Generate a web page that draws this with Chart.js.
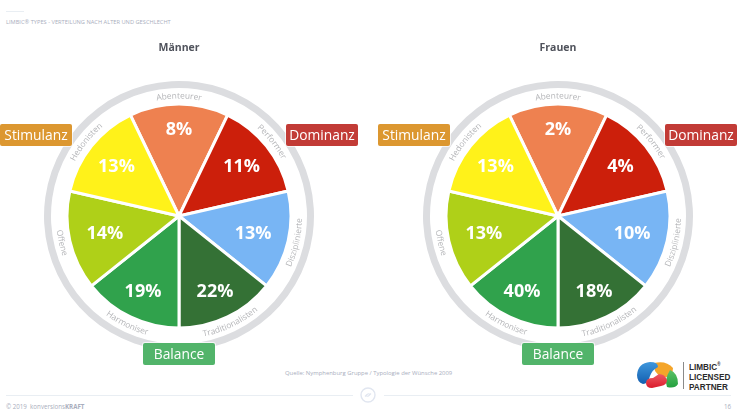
<!DOCTYPE html>
<html lang="de">
<head>
<meta charset="utf-8">
<title>LIMBIC Types</title>
<script src="https://cdn.jsdelivr.net/npm/chart.js@4"></script>
<style>
  html, body { margin: 0; padding: 0; background: #fff; }
  body { position: relative; width: 743px; height: 417px; overflow: hidden; font-family: "Open Sans", sans-serif; }
  .abs { position: absolute; white-space: nowrap; }
  canvas.wheel { position: absolute; }
  .chip { position: absolute; width: 72px; height: 22px; line-height: 21px; text-align: center; color: #fff;
          font-size: 13.8px; border-radius: 2px; box-shadow: 0 0 0 1px rgba(255,255,255,.7); }
  .rule { position: absolute; height: 1px; background: #e9eef3; }
</style>
</head>
<body>
<div class="rule" style="left:6px;top:11px;width:18px"></div>
<div class="abs" style="left:6px;top:18px;font-size:5.7px;color:#a9aebd" id="heading"></div>
<div class="abs" style="left:285px;top:369px;font-size:5.9px;color:#a9aebd" id="source"></div>
<div class="rule" style="left:6px;top:395px;width:347px"></div>
<div class="rule" style="left:384px;top:395px;width:347px"></div>
<svg class="abs" style="left:360px;top:387px" width="16" height="16" viewBox="0 0 16 16">
  <circle cx="8" cy="8" r="7" fill="none" stroke="#e1e6f0" stroke-width="1.4"/>
  <path d="M5 9.5 L7 7.5 Q8.5 6.3 9.5 7 M11 6.5 L9 8.5 Q7.5 9.7 6.5 9" fill="none" stroke="#e1e6f0" stroke-width="1.2"/>
</svg>
<div class="abs" style="left:6px;top:402px;font-size:6.2px;color:#a9aebd">© 2019&nbsp; konversions<b>KRAFT</b></div>
<div class="abs" style="left:724px;top:402px;font-size:6.2px;color:#a9aebd">16</div>
<svg class="abs" style="left:636px;top:360px" width="44" height="30" viewBox="0 0 44 30">
  <defs>
    <linearGradient id="blueFill" x1="0" y1="0" x2="0" y2="1"><stop offset="0" stop-color="#3f97dc"/><stop offset="1" stop-color="#135fb0"/></linearGradient>
    <linearGradient id="redFill" x1="0" y1="0" x2="0" y2="1"><stop offset="0" stop-color="#ee5a63"/><stop offset="1" stop-color="#db1b2b"/></linearGradient>
    <linearGradient id="greenFill" x1="0" y1="0" x2="0" y2="1"><stop offset="0" stop-color="#5cc268"/><stop offset="1" stop-color="#24a03f"/></linearGradient>
  </defs>
  <path d="M18 3 Q30 0 37 8 L36 16 L25 18 L19 11 Z" fill="#f4a52a"/>
  <path d="M34 10 Q42 13 42 24 Q39 29 31 27 Q28 20 34 10 Z" fill="url(#greenFill)"/>
  <path d="M1 15 Q2 3 14 2 Q22 2 22 7 Q16 10 14 16 Q12 24 7 24 Q1 22 1 15 Z" fill="url(#blueFill)"/>
  <path d="M10 23 Q10 18 17 18 L23 14 Q29 14 31 20 Q31 25 25 26 L16 28 Q10 28 10 23 Z" fill="url(#redFill)"/>
</svg>
<div class="abs" style="left:683px;top:362px;width:1px;height:27px;background:#8a8a8a"></div>
<div class="abs" style="left:689px;top:362px;font:bold 9.5px/10px 'Liberation Sans',sans-serif;color:#2b2b2b;transform:scaleX(.86);transform-origin:left top">LIMBIC<sup style="font-size:5px;line-height:0">®</sup><br>LICENSED<br>PARTNER</div>

<script>
// Reporting header and footer copy
const headingText = "LIMBIC® TYPES - VERTEILUNG NACH ALTER UND GESCHLECHT";
const sourceText = "Quelle: Nymphenburg Gruppe / Typologie der Wünsche 2009";

// The seven limbic types, clockwise from the top of the wheel
const typeNames = ["Abenteurer", "Performer", "Disziplinierte", "Traditionalisten", "Harmoniser", "Offene", "Hedonisten"];
const typeColors = ["#ee8150", "#cc1f0b", "#78b5f4", "#347135", "#30a24c", "#afd018", "#fff21a"];

// Share of each type in percent
const menShares = [8, 11, 13, 22, 19, 14, 13];
const womenShares = [2, 4, 10, 18, 40, 13, 13];

// The wheel gives every type the same wedge; the share is printed inside it
const wedgeSizes = [1, 1, 1, 1, 1, 1, 1];

// Distance of each percentage from the hub, per wedge
const shareRadii = [87, 80, 76, 83, 83, 76, 80];

// Motive system chips around each wheel
const chipNames = ["Stimulanz", "Dominanz", "Balance"];
const chipColors = ["#dc9730", "#c23b36", "#52b46a"];

document.getElementById("heading").textContent = headingText;
document.getElementById("source").textContent = sourceText;

// Wedges below the hub read left to right, with letter tops toward the hub
function readsInward(mid) {
  return Math.sin(mid) > 0;
}

// Writes the type name along the arc and the share inside each wedge
const wedgeText = {
  id: "wedgeText",
  afterDatasetsDraw(chart, args, opts) {
    const ctx = chart.ctx;
    const arcs = chart.getDatasetMeta(2).data;
    arcs.forEach((arc, i) => {
      const cx = arc.x, cy = arc.y;
      const mid = (arc.startAngle + arc.endAngle) / 2;

      ctx.save();
      ctx.fillStyle = "#fff";
      ctx.font = "bold 18px 'Open Sans', sans-serif";
      ctx.textAlign = "center";
      ctx.textBaseline = "middle";
      ctx.fillText(opts.shares[i] + "%", cx + Math.cos(mid) * shareRadii[i], cy + 1 + Math.sin(mid) * shareRadii[i]);
      ctx.restore();

      const inward = readsInward(mid);
      const name = typeNames[i];
      const r = inward ? 123 : 117.5;
      ctx.save();
      ctx.fillStyle = "#b4b5b8";
      ctx.font = "8.4px 'Open Sans', sans-serif";
      ctx.textAlign = "center";
      ctx.textBaseline = "alphabetic";
      let run = -ctx.measureText(name).width / 2;
      for (const ch of name) {
        const w = ctx.measureText(ch).width;
        const along = (run + w / 2) / r;
        const a = inward ? mid - along : mid + along;
        ctx.save();
        ctx.translate(cx + Math.cos(a) * r, cy + Math.sin(a) * r);
        ctx.rotate(inward ? a - Math.PI / 2 : a + Math.PI / 2);
        ctx.fillText(ch, 0, 0);
        ctx.restore();
        run += w;
      }
      ctx.restore();
    });
  }
};

function addWheel(title, shares, left) {
  const canvas = document.createElement("canvas");
  canvas.className = "wheel";
  canvas.width = 340; canvas.height = 313;
  canvas.style.cssText = `left:${left}px;top:38px;width:340px;height:313px`;
  document.body.appendChild(canvas);
  new Chart(canvas, {
    type: "doughnut",
    data: {
      labels: typeNames,
      datasets: [
        { data: [1], backgroundColor: ["#dcdde0"], borderWidth: 0, weight: 7 },
        { data: [1], backgroundColor: ["rgba(0,0,0,0)"], borderWidth: 0, weight: 16 },
        { data: wedgeSizes, backgroundColor: typeColors, borderColor: "#fff", borderWidth: 3, weight: 112 }
      ]
    },
    options: {
      responsive: false,
      animation: false,
      cutout: 0,
      rotation: -180 / typeNames.length,
      layout: { padding: 0 },
      plugins: {
        legend: { display: false },
        tooltip: { enabled: false },
        title: {
          display: true, text: title, color: "#50535c",
          font: { family: "'Open Sans', sans-serif", size: 10.5, weight: "bold" },
          padding: { top: 4, bottom: 26.4 }
        },
        wedgeText: { shares }
      }
    },
    plugins: [wedgeText]
  });
}

addWheel("Männer", menShares, 9);
addWheel("Frauen", womenShares, 388);

// Chips sit above the canvases so Balance overlaps the ring
function addChip(nameIndex, x, y) {
  const el = document.createElement("div");
  el.className = "chip";
  el.textContent = chipNames[nameIndex];
  el.style.left = x + "px";
  el.style.top = y + "px";
  el.style.background = chipColors[nameIndex];
  document.body.appendChild(el);
}
[[0, 0, 124], [1, 286, 124], [2, 143, 343], [0, 378, 124], [1, 665, 124], [2, 522, 343]]
  .forEach(c => addChip(c[0], c[1], c[2]));
</script>
</body>
</html>
